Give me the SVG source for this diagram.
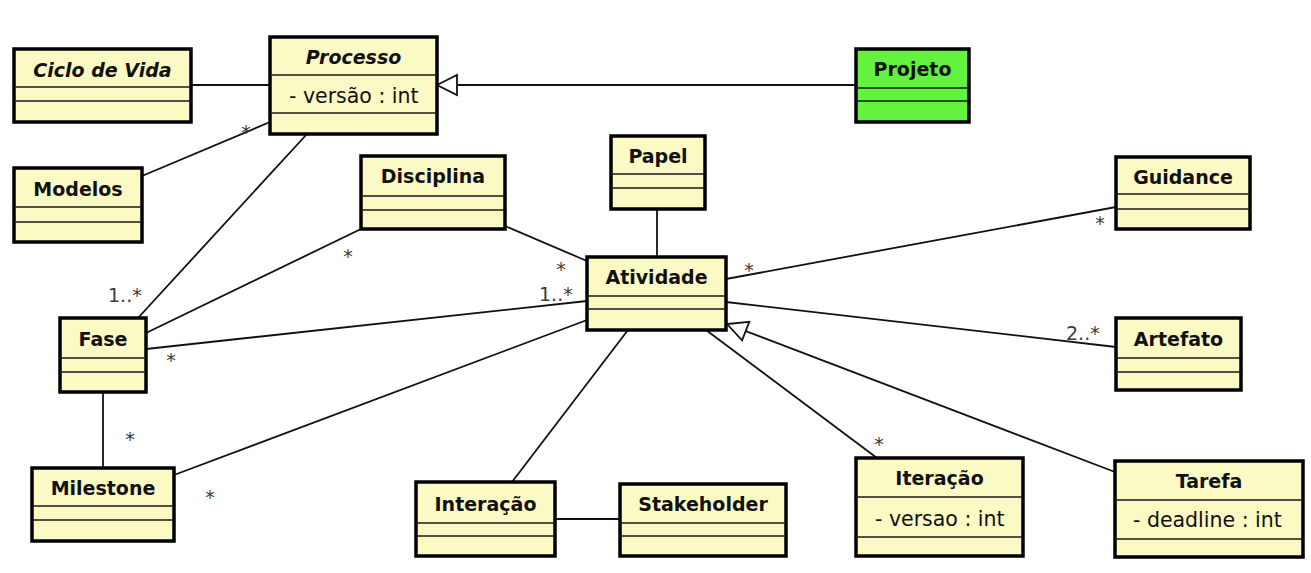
<svg xmlns="http://www.w3.org/2000/svg" width="1311" height="573" viewBox="0 0 1311 573">
<style>
.box{fill:#FBF9C4;stroke:#000;stroke-width:3.5}
.green{fill:#63F23E}
.sep{stroke:#1a1a1a;stroke-width:1.6}
.t{font-family:"DejaVu Sans","Liberation Sans",sans-serif;font-size:19px;font-weight:bold;fill:#111;text-anchor:middle}
.it{font-style:italic}
.a{font-family:"DejaVu Sans","Liberation Sans",sans-serif;font-size:20.5px;fill:#111}
.m{font-family:"DejaVu Sans","Liberation Sans",sans-serif;font-size:19px;fill:#3a3a3a}
.mc{text-anchor:middle}
.c{stroke:#111;stroke-width:1.8;fill:none}
.tri{fill:#fff;stroke:#111;stroke-width:1.8}
</style>
<rect width="1311" height="573" fill="#fff"/>
<g id="connectors">
<path class="c" d="M191 85 L270 85"/>
<path class="c" d="M142 176 L270 122"/>
<path class="c" d="M307 134 L138 318"/>
<path class="c" d="M856 85 L457 85"/>
<polygon class="tri" points="437,85 457,75 457,95"/>
<path class="c" d="M146 333 L361 229"/>
<path class="c" d="M505 226 L587 261"/>
<path class="c" d="M657 209 L657 257"/>
<path class="c" d="M587 301 L146 349"/>
<path class="c" d="M587 320 L174 475"/>
<path class="c" d="M103 392 L103 468"/>
<path class="c" d="M726 279 L1116 207"/>
<path class="c" d="M726 302 L1116 347"/>
<path class="c" d="M1115 472 L745.7 331.1"/>
<polygon class="tri" points="727,324 742.1,340.4 749.3,321.8"/>
<path class="c" d="M706 330 L877 458"/>
<path class="c" d="M628 330 L512 482"/>
<path class="c" d="M555 519 L620 519"/>
<text class="m mc" x="246" y="139">*</text>
<text class="m" x="108" y="302">1..*</text>
<text class="m mc" x="348" y="263">*</text>
<text class="m mc" x="561" y="276">*</text>
<text class="m" x="539" y="301">1..*</text>
<text class="m mc" x="171" y="367">*</text>
<text class="m mc" x="210" y="504">*</text>
<text class="m mc" x="130" y="446">*</text>
<text class="m mc" x="749" y="277">*</text>
<text class="m mc" x="1100" y="230">*</text>
<text class="m" x="1066" y="340">2..*</text>
<text class="m mc" x="879" y="451">*</text>
</g>
<g id="ciclo-de-vida">
<rect class="box" x="14" y="49" width="177" height="73"/>
<path class="sep" d="M14 87 H191 M14 101 H191"/>
<text class="t it" x="102.5" y="77">Ciclo de Vida</text>
</g>
<g id="processo">
<rect class="box" x="270" y="37" width="167" height="97"/>
<path class="sep" d="M270 75 H437 M270 113 H437"/>
<text class="t it" x="353.5" y="64">Processo</text>
<text class="a" x="289" y="103">- versão : int</text>
</g>
<g id="projeto">
<rect class="box green" x="856" y="49" width="113" height="73"/>
<path class="sep" d="M856 88 H969 M856 101 H969"/>
<text class="t" x="912.5" y="76">Projeto</text>
</g>
<g id="modelos">
<rect class="box" x="14" y="168" width="128" height="74"/>
<path class="sep" d="M14 207 H142 M14 222 H142"/>
<text class="t" x="78" y="196">Modelos</text>
</g>
<g id="disciplina">
<rect class="box" x="361" y="156" width="144" height="73"/>
<path class="sep" d="M361 196 H505 M361 210 H505"/>
<text class="t" x="433" y="183">Disciplina</text>
</g>
<g id="papel">
<rect class="box" x="611" y="136" width="94" height="73"/>
<path class="sep" d="M611 174 H705 M611 188 H705"/>
<text class="t" x="658" y="163">Papel</text>
</g>
<g id="guidance">
<rect class="box" x="1116" y="157" width="134" height="72"/>
<path class="sep" d="M1116 194 H1250 M1116 209 H1250"/>
<text class="t" x="1183" y="184">Guidance</text>
</g>
<g id="atividade">
<rect class="box" x="587" y="257" width="139" height="73"/>
<path class="sep" d="M587 296 H726 M587 309 H726"/>
<text class="t" x="656.5" y="284">Atividade</text>
</g>
<g id="fase">
<rect class="box" x="60" y="318" width="86" height="74"/>
<path class="sep" d="M60 358 H146 M60 372 H146"/>
<text class="t" x="103" y="346">Fase</text>
</g>
<g id="artefato">
<rect class="box" x="1116" y="318" width="125" height="72"/>
<path class="sep" d="M1116 358 H1241 M1116 372 H1241"/>
<text class="t" x="1178.5" y="346">Artefato</text>
</g>
<g id="milestone">
<rect class="box" x="32" y="468" width="142" height="73"/>
<path class="sep" d="M32 506 H174 M32 520 H174"/>
<text class="t" x="103" y="495">Milestone</text>
</g>
<g id="interacao">
<rect class="box" x="416" y="482" width="139" height="74"/>
<path class="sep" d="M416 523 H555 M416 536 H555"/>
<text class="t" x="485.5" y="511">Interação</text>
</g>
<g id="stakeholder">
<rect class="box" x="620" y="484" width="166" height="72"/>
<path class="sep" d="M620 523 H786 M620 536 H786"/>
<text class="t" x="703" y="511">Stakeholder</text>
</g>
<g id="iteracao">
<rect class="box" x="856" y="458" width="167" height="98"/>
<path class="sep" d="M856 497 H1023 M856 537 H1023"/>
<text class="t" x="939.5" y="485">Iteração</text>
<text class="a" x="875" y="526">- versao : int</text>
</g>
<g id="tarefa">
<rect class="box" x="1115" y="461" width="188" height="96"/>
<path class="sep" d="M1115 500 H1303 M1115 539 H1303"/>
<text class="t" x="1209" y="488">Tarefa</text>
<text class="a" x="1133" y="527">- deadline : int</text>
</g>
</svg>
